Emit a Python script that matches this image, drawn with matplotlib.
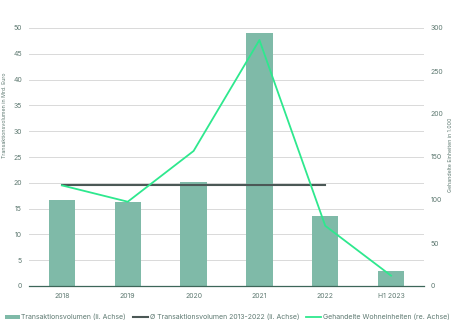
import matplotlib.pyplot as plt
import numpy as np

categories = ["2018", "2019", "2020", "2021", "2022", "H1 2023"]
volume = [16.7, 16.2, 20.2, 49.0, 13.6, 3.0]
avg_volume = [19.6, 19.6, 19.6, 19.6, 19.6]  # 2018-2022
units = [117, 98, 157, 286, 70, 12]

text_color = "#5f7a72"
plt.rcParams["font.family"] = ["Inter", "DejaVu Sans"]

fig = plt.figure(figsize=(4.54, 3.31), dpi=100)
ax = fig.add_axes([29 / 454, 1 - 286 / 331, 395 / 454, 258 / 331])
ax2 = ax.twinx()

x = np.arange(len(categories))
bars = ax.bar(x, volume, width=0.4, color="#7fbaa8", zorder=2)
avg_line, = ax.plot(x[:len(avg_volume)], avg_volume, color="#4b5856", linewidth=1.5, zorder=3)
unit_line, = ax2.plot(x, units, color="#2ee88e", linewidth=1.3)

ax.set_xlim(-0.5, len(categories) - 0.5)
ax.set_ylim(0, 50)
ax.set_yticks(range(0, 51, 5))
ax2.set_ylim(0, 300)
ax2.set_yticks(range(0, 301, 50))
ax.set_xticks(x)
ax.set_xticklabels(categories)

ax.grid(axis="y", color="#d9d9d9", linewidth=0.7, zorder=0)
ax.set_axisbelow(True)
for a in (ax, ax2):
    for s in a.spines.values():
        s.set_visible(False)
    a.tick_params(length=0, labelsize=5, colors=text_color, pad=5)
ax.spines["bottom"].set_visible(True)
ax.spines["bottom"].set_color("#3d6659")
ax.spines["bottom"].set_linewidth(0.9)

ax.set_ylabel("Transaktionsvolumen in Mrd. Euro", fontsize=3.8, color=text_color)
ax.yaxis.set_label_coords(-0.055, 0.66)
ax2.set_ylabel("Gehandelte Einheiten in 1.000", fontsize=3.8, color=text_color)
ax2.yaxis.set_label_coords(1.06, 0.51)

leg = fig.legend(
    [bars, avg_line, unit_line],
    ["Transaktionsvolumen (li. Achse)",
     "Ø Transaktionsvolumen 2013-2022 (li. Achse)",
     "Gehandelte Wohneinheiten (re. Achse)"],
    loc="center", bbox_to_anchor=(0.5, 1 - 317 / 331),
    ncol=3, frameon=False, fontsize=5, handlelength=2.2, handleheight=0.6,
    handletextpad=0.2, columnspacing=1.0,
)
for t in leg.get_texts():
    t.set_color(text_color)

fig.savefig("out.png", dpi=100)
